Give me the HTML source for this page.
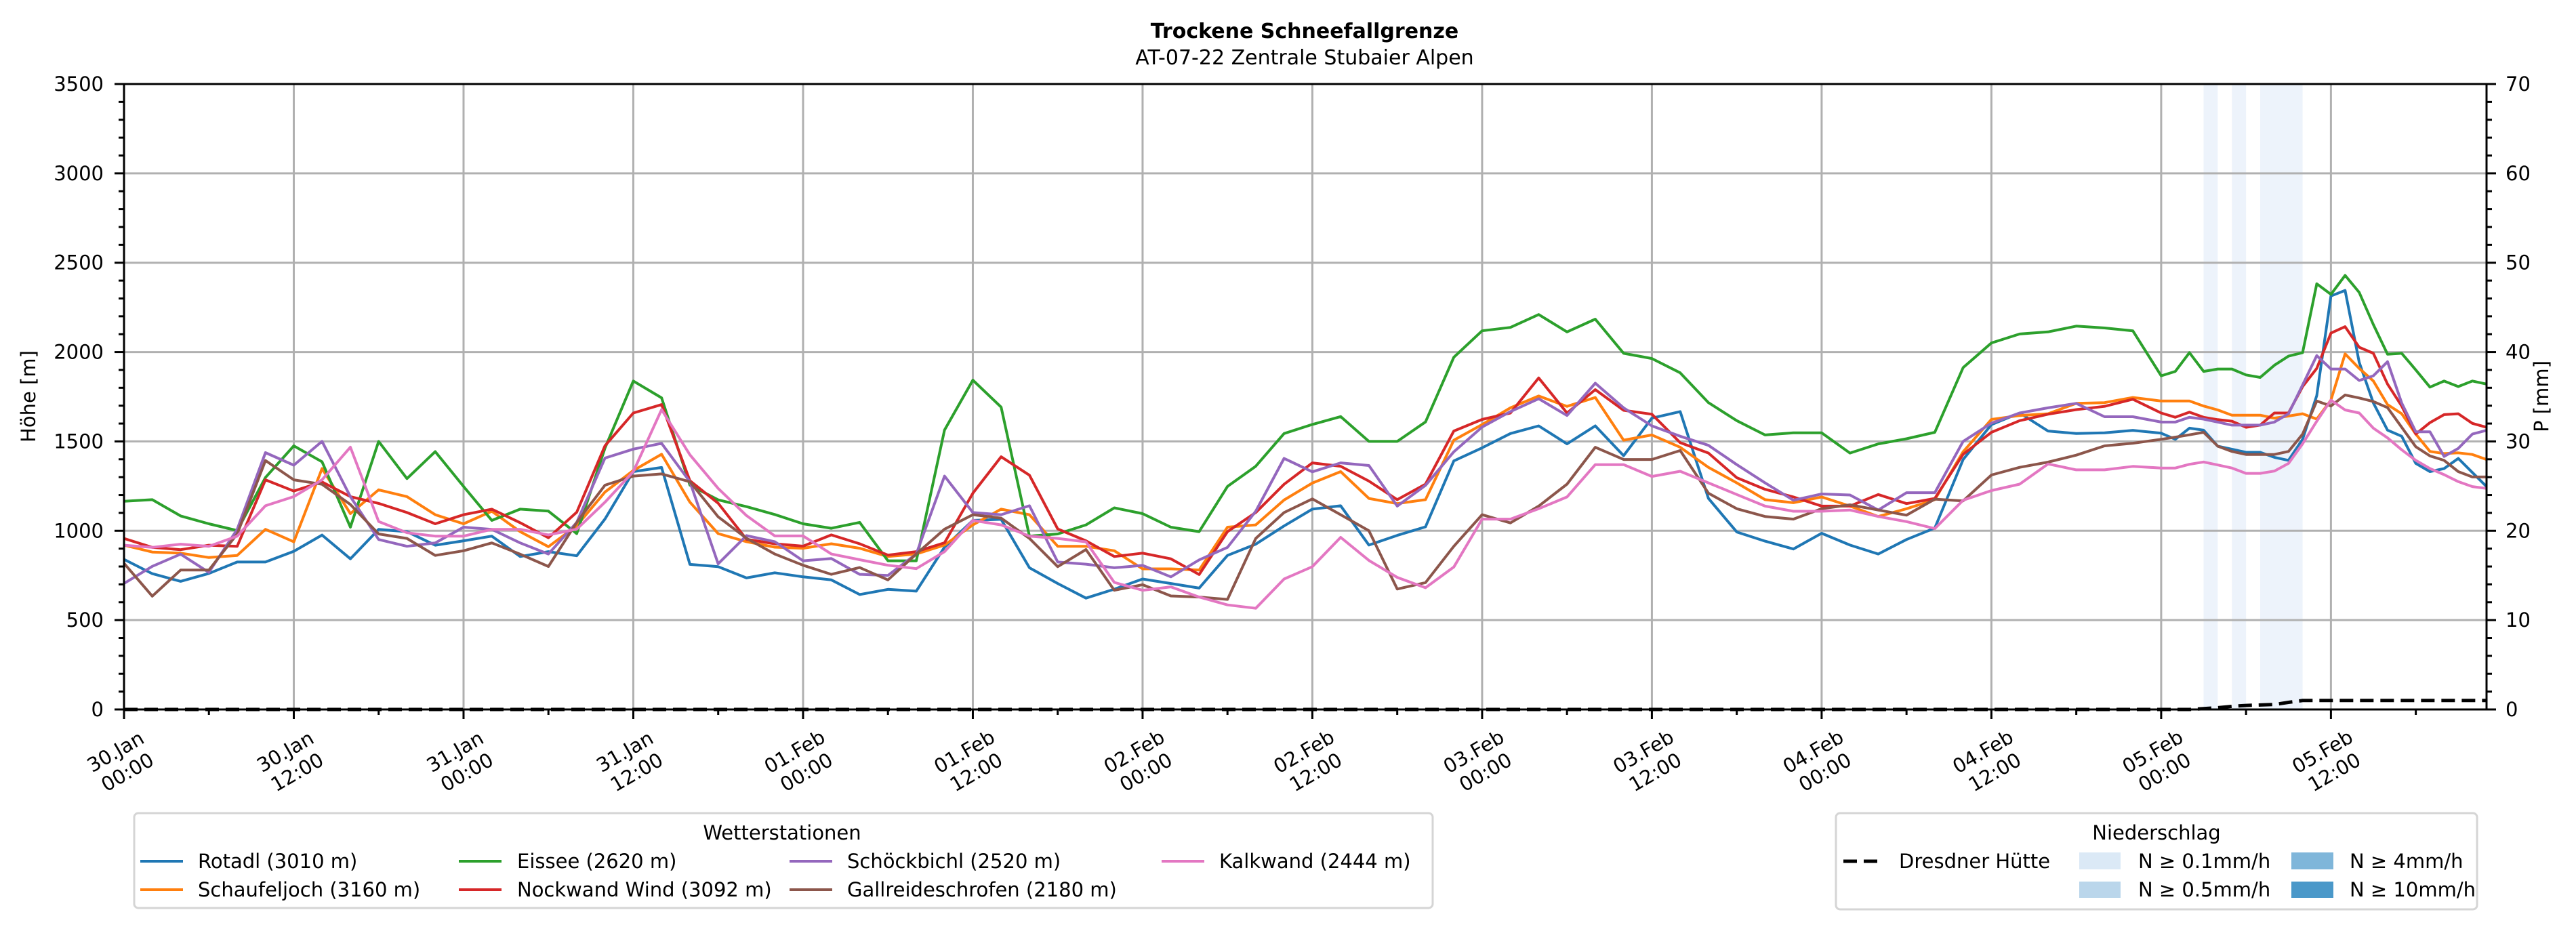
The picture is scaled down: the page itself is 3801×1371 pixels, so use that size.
<!DOCTYPE html>
<html><head><meta charset="utf-8"><title>Trockene Schneefallgrenze</title>
<style>
html,body{margin:0;padding:0;background:#fff;}
svg{display:block;font-family:"DejaVu Sans","Liberation Sans",sans-serif;}
</style></head>
<body>
<svg id="chart" width="3801" height="1371" viewBox="0 0 3801 1371" xmlns="http://www.w3.org/2000/svg">
<rect x="0" y="0" width="3801" height="1371" fill="#fff"/>
<text x="1925" y="56" text-anchor="middle" font-size="30" font-weight="bold">Trockene Schneefallgrenze</text>
<text x="1925" y="95" text-anchor="middle" font-size="30">AT-07-22 Zentrale Stubaier Alpen</text>
<g id="bands"></g>
<g id="grid"></g>
<g id="series"></g>
<g id="axes"></g>
<text transform="translate(52,585) rotate(-90)" text-anchor="middle" font-size="29">Höhe [m]</text>
<text transform="translate(3760,585) rotate(-90)" text-anchor="middle" font-size="29">P [mm]</text>

<g>
<rect x="198" y="1200" width="1916" height="140" rx="6" fill="#fff" stroke="#d5d5d5" stroke-width="3"/>
<text x="1154" y="1239" text-anchor="middle" font-size="29">Wetterstationen</text>
<g><line x1="207" y1="1271" x2="270" y2="1271" stroke="#1f77b4" stroke-width="4"/><text x="292" y="1281" font-size="29">Rotadl (3010 m)</text></g>
<g><line x1="207" y1="1313" x2="270" y2="1313" stroke="#ff7f0e" stroke-width="4"/><text x="292" y="1323" font-size="29">Schaufeljoch (3160 m)</text></g>
<g><line x1="677" y1="1271" x2="740" y2="1271" stroke="#2ca02c" stroke-width="4"/><text x="763" y="1281" font-size="29">Eissee (2620 m)</text></g>
<g><line x1="677" y1="1313" x2="740" y2="1313" stroke="#d62728" stroke-width="4"/><text x="763" y="1323" font-size="29">Nockwand Wind (3092 m)</text></g>
<g><line x1="1165" y1="1271" x2="1228" y2="1271" stroke="#9467bd" stroke-width="4"/><text x="1250" y="1281" font-size="29">Schöckbichl (2520 m)</text></g>
<g><line x1="1165" y1="1313" x2="1228" y2="1313" stroke="#8c564b" stroke-width="4"/><text x="1250" y="1323" font-size="29">Gallreideschrofen (2180 m)</text></g>
<g><line x1="1714" y1="1271" x2="1777" y2="1271" stroke="#e377c2" stroke-width="4"/><text x="1799" y="1281" font-size="29">Kalkwand (2444 m)</text></g>
</g>

<g>
<rect x="2709" y="1200" width="946" height="142" rx="6" fill="#fff" stroke="#d5d5d5" stroke-width="3"/>
<text x="3182" y="1239" text-anchor="middle" font-size="29">Niederschlag</text>
<g><line x1="2720" y1="1271" x2="2776" y2="1271" stroke="#000" stroke-width="5" stroke-dasharray="20,10"/><text x="2802" y="1281" font-size="29">Dresdner Hütte</text></g>
<g><rect x="3068" y="1258" width="61" height="25" fill="#dbe9f6"/><text x="3155" y="1281" font-size="29">N ≥ 0.1mm/h</text></g>
<g><rect x="3068" y="1301" width="61" height="24" fill="#bad6eb"/><text x="3155" y="1323" font-size="29">N ≥ 0.5mm/h</text></g>
<g><rect x="3381" y="1258" width="62" height="25" fill="#7fb6da"/><text x="3467" y="1281" font-size="29">N ≥ 4mm/h</text></g>
<g><rect x="3381" y="1301" width="62" height="24" fill="#4a98c9"/><text x="3467" y="1323" font-size="29">N ≥ 10mm/h</text></g>
</g>
</svg>
<script>
// ---- data ----
const hours = [0,2,4,6,8,10,12,14,16,18,20,22,24,26,28,30,32,34,36,38,40,42,44,46,48,50,52,54,56,58,60,62,64,66,68,70,72,74,76,78,80,82,84,86,88,90,92,94,96,98,100,102,104,106,108,110,112,114,116,118,120,122,124,126,128,130,132,134,136,138,140,142,144,145,146,147,148,149,150,151,152,153,154,155,156,157,158,159,160,161,162,163,164,165,166,167];
const rotadl = [840,760,717,761,825,825,885,976,843,1008,995,919,944,970,856, 883,860,1066,1331,1354,812,799,736,765,742,725,643,672,662,908, 1058,1064,793,705,623,673,730,705,679,862,925,1027,1121,1140, 920,974,1022,1391,1464,1544,1587,1486,1587,1420,1630,1667,1181,993, 942,898,986,920,870,951,1015,1399,1594,1659,1558,1544,1548,1562, 1546,1512,1574,1563,1473,1456,1439,1439,1411,1394,1512,1757,2314,2345,1943,1715,1563,1529,1377,1331,1348,1405,1326,1247];
const schaufeljoch = [919,881,875,850,862,1008,938,1348,1096,1229,1191,1090,1039,1109,995, 911,1028,1217,1337,1428,1160,984,939,908,902,927,902,856,870,920, 1033,1121,1090,913,913,888,787,787,780,1020,1033,1172,1267,1331, 1181,1152,1174,1507,1594,1688,1754,1696,1746,1507,1536,1467,1355,1268, 1174,1157,1189,1138,1080,1123,1174,1442,1623,1645,1655,1713,1717,1746, 1726,1726,1726,1698,1676,1647,1647,1647,1630,1642,1655,1625,1731,1990,1909,1838,1706,1655,1541,1444,1432,1436,1427,1399];
const eissee = [1165,1174,1083,1039,1001,1298,1475,1386,1020,1500,1292,1443,1248,1058,1121, 1110,984,1463,1838,1744,1255,1173,1135,1091,1039,1014,1047,832,832,1564, 1843,1692,970,982,1033,1128,1096,1020,995,1248,1361,1544,1595,1639, 1500,1500,1609,1971,2119,2138,2210,2113,2184,1993,1964,1884,1717,1616, 1536,1548,1548,1435,1486,1515,1551,1913,2051,2101,2113,2145,2135,2119, 1867,1892,1997,1892,1905,1905,1872,1858,1926,1977,1997,2382,2323,2429,2334,2154,1988,1993,1900,1804,1838,1807,1838,1821];
const nockwand = [957,907,894,919,913,1285,1222,1273,1191,1153,1102,1039,1090,1121,1045, 961,1104,1476,1659,1706,1280,1154,952,927,914,977,927,864,883,933, 1210,1414,1311,1010,944,856,875,843,755,995,1102,1260,1380,1361, 1278,1174,1261,1558,1623,1659,1855,1659,1790,1674,1652,1493,1435,1297, 1232,1189,1138,1138,1203,1152,1181,1428,1551,1616,1652,1678,1696,1736, 1659,1635,1664,1635,1622,1613,1579,1591,1659,1659,1807,1909,2106,2142,2027,1993,1821,1698,1541,1605,1650,1655,1601,1579];
const schoeckbichl = [705,801,869,767,1008,1437,1367,1500,1191,951,913,932,1020,1008,932, 870,1047,1407,1457,1489,1274,815,973,939,832,845,756,750,870,1306, 1102,1090,1140,825,813,793,806,742,837,907,1109,1405,1330,1380, 1365,1138,1254,1442,1580,1667,1739,1645,1826,1688,1587,1529,1478,1370, 1268,1171,1206,1200,1116,1213,1213,1500,1602,1659,1688,1713,1638,1638, 1608,1608,1635,1625,1608,1591,1591,1591,1608,1655,1816,1980,1905,1905,1841,1867,1946,1715,1554,1554,1416,1461,1541,1562];
const gallreide = [818,634,780,780,982,1393,1285,1260,1147,982,957,862,888,932,869, 800,1047,1255,1306,1318,1274,1078,958,870,807,756,794,725,870,1009, 1090,1071,957,799,895,667,698,635,629,616,957,1102,1178,1090, 1000,674,710,913,1090,1044,1138,1261,1467,1399,1399,1449,1210,1123, 1080,1065,1123,1145,1116,1087,1177,1167,1312,1355,1384,1423,1475,1490, 1512,1524,1537,1551,1473,1444,1427,1427,1427,1444,1541,1726,1698,1760,1743,1723,1689,1579,1470,1419,1394,1331,1301,1301];
const kalkwand = [919,907,925,913,970,1140,1191,1285,1468,1052,989,970,970,1008,1008, 977,1009,1160,1331,1678,1425,1237,1085,971,971,870,838,807,788,883, 1058,1033,970,957,938,711,667,686,629,585,566,730,799,963, 834,739,681,797,1065,1065,1123,1189,1370,1370,1304,1333,1268,1203, 1138,1109,1109,1116,1080,1051,1012,1171,1225,1261,1374,1341,1341,1360, 1351,1351,1372,1385,1368,1351,1321,1321,1334,1377,1487,1613,1731,1676,1659,1574,1520,1453,1394,1348,1314,1275,1247,1237];
const precipHours = [0,146,147,148,149,150,151,152,153,154,167];
const precipValues = [0,0,0.1,0.2,0.35,0.45,0.5,0.55,0.8,1.0,1.0];
const bandStart = [147,149,151];
const bandEnd = [148,150,154];
const xTickLabels = ["30.Jan\n00:00","30.Jan\n12:00","31.Jan\n00:00","31.Jan\n12:00","01.Feb\n00:00","01.Feb\n12:00","02.Feb\n00:00","02.Feb\n12:00","03.Feb\n00:00","03.Feb\n12:00","04.Feb\n00:00","04.Feb\n12:00","05.Feb\n00:00","05.Feb\n12:00"];
const yTicks = [0,500,1000,1500,2000,2500,3000,3500];
const y2Ticks = [0,10,20,30,40,50,60,70];

// ---- scales ----
const L=183,R=3669,T=124,B=1047, HMAX=167, YMAX=3500, PMAX=70;
const xs = h => L + h*(R-L)/HMAX;
const ys = v => B - v*(B-T)/YMAX;
const yp = p => B - p*(B-T)/PMAX;
const NS='http://www.w3.org/2000/svg';
function mk(tag, attrs, parent){const e=document.createElementNS(NS,tag);for(const k in attrs)e.setAttribute(k,attrs[k]);parent.appendChild(e);return e;}

const gBands=document.getElementById('bands'), gGrid=document.getElementById('grid'), gSer=document.getElementById('series'), gAx=document.getElementById('axes');

bandStart.forEach((s,i)=>{
  const r=mk('rect',{x:xs(s),y:T,width:xs(bandEnd[i])-xs(s),height:B-T,fill:'#edf3fb'},gBands);
  
  
});

for(let i=0;i<xTickLabels.length;i++){
  const x=xs(i*12);
  const l=mk('line',{x1:x,y1:T,x2:x,y2:B,stroke:'#b0b0b0','stroke-width':3},gGrid);
  
  
}
yTicks.forEach(v=>{
  const l=mk('line',{x1:L,y1:ys(v),x2:R,y2:ys(v),stroke:'#b0b0b0','stroke-width':3},gGrid);
  
  
});

const series=[[rotadl,'#1f77b4','rotadl-line'],[schaufeljoch,'#ff7f0e','schaufeljoch-line'],[eissee,'#2ca02c','eissee-line'],[nockwand,'#d62728','nockwand-line'],[schoeckbichl,'#9467bd','schoeckbichl-line'],[gallreide,'#8c564b','gallreideschrofen-line'],[kalkwand,'#e377c2','kalkwand-line']];
series.forEach(s=>{
  const pts=s[0].map((v,i)=>xs(hours[i]).toFixed(1)+','+ys(v).toFixed(1)).join(' ');
  const p=mk('polyline',{points:pts,fill:'none',stroke:s[1],'stroke-width':4,'stroke-linejoin':'round'},gSer);
  
  
});
const ppts=precipValues.map((v,i)=>xs(precipHours[i]).toFixed(1)+','+yp(v).toFixed(1)).join(' ');
const pl=mk('polyline',{points:ppts,fill:'none',stroke:'#000','stroke-width':5,'stroke-dasharray':'20,10'},gSer);



const fr=mk('rect',{x:L,y:T,width:R-L,height:B-T,fill:'none',stroke:'#000','stroke-width':3},gAx);



for(let h=0;h<=HMAX;h+=6){
  const major=h%12===0;
  const t=mk('line',{x1:xs(h),y1:B,x2:xs(h),y2:B+(major?14:8),stroke:'#000','stroke-width':3},gAx);
  
  
}
xTickLabels.forEach((lab,i)=>{
  const x=xs(i*12)-4;
  const tx=mk('text',{transform:`translate(${x},1124) rotate(-30)`,'text-anchor':'middle','font-size':29},gAx);
  
  
  lab.split('\n').forEach((ln,j)=>{const ts=mk('tspan',{x:0,y:j===0?-7:28},tx);ts.textContent=ln;});
});

for(let v=0;v<=YMAX;v+=100){
  const major=v%500===0;
  const t=mk('line',{x1:L,y1:ys(v),x2:L-(major?14:8),y2:ys(v),stroke:'#000','stroke-width':3},gAx);
  
  
}
yTicks.forEach(v=>{
  const tx=mk('text',{x:153,y:ys(v)+10,'text-anchor':'end','font-size':29},gAx);
  
  
  tx.textContent=v;
});
for(let p=0;p<=PMAX;p+=2){
  const major=p%10===0;
  const t=mk('line',{x1:R,y1:yp(p),x2:R+(major?14:8),y2:yp(p),stroke:'#000','stroke-width':3},gAx);
  
  
}
y2Ticks.forEach(p=>{
  const tx=mk('text',{x:3697,y:yp(p)+10,'text-anchor':'start','font-size':29},gAx);
  
  
  tx.textContent=p;
});
</script>
</body></html>
